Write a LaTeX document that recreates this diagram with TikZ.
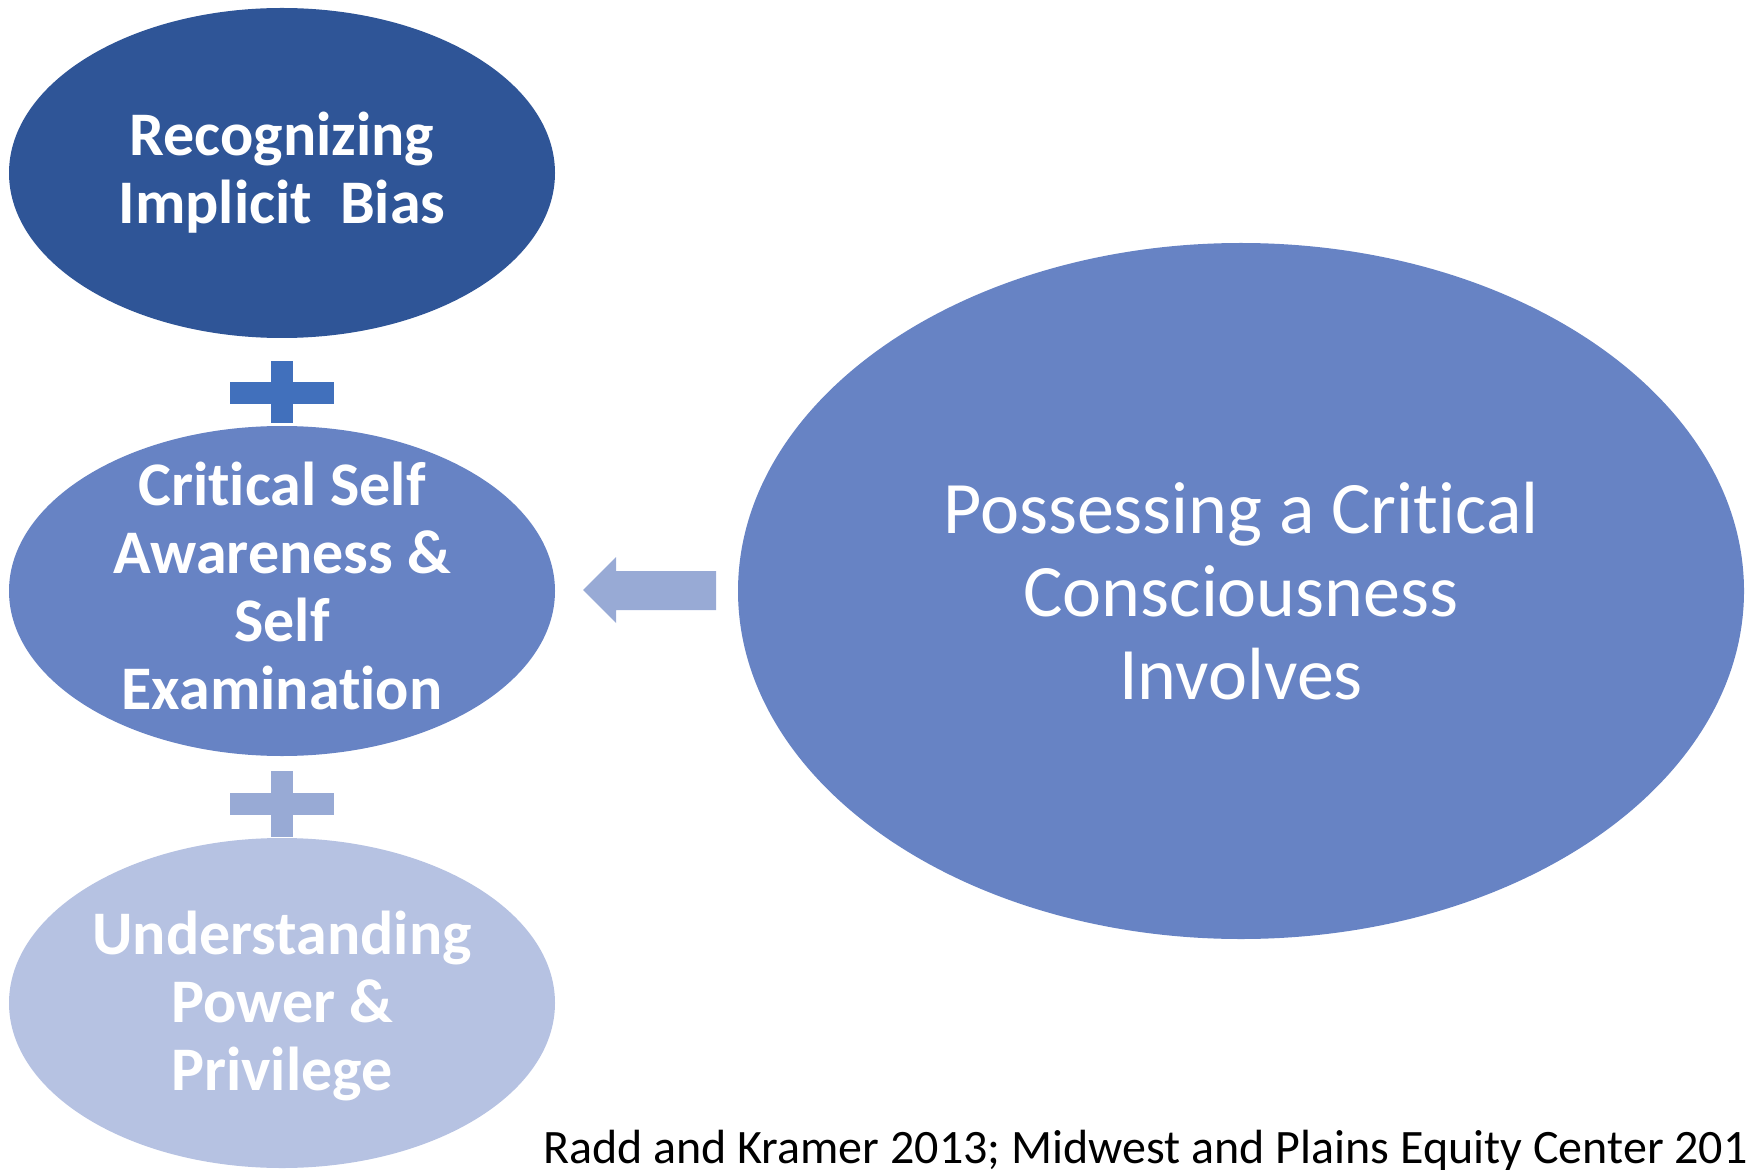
\documentclass[tikz,border=0pt]{standalone}
\usepackage{fontspec}
\setmainfont{Carlito}[Ligatures=NoCommon]
\usetikzlibrary{shapes.geometric}

\definecolor{darkblue}{HTML}{2F5597}
\definecolor{midblue}{HTML}{6783C4}
\definecolor{lightblue}{HTML}{B6C2E2}
\definecolor{plusblue}{HTML}{4170BC}
\definecolor{paleblue}{HTML}{98AAD5}

\begin{document}
\begin{tikzpicture}[x=0.5pt, y=-0.5pt,
                    main/.style = {ellipse, minimum width=273pt, minimum height=165pt, inner sep=0pt},
                    words/.style = {text=white, align=center, font=\fontsize{31}{34}\selectfont\bfseries}]
                    \useasboundingbox (0,0) rectangle (1748,1170);
                    \clip (0,0) rectangle (1748,1170);

                    \node[main, fill=darkblue] (1) at (282,173) {};
                    \node[main, fill=midblue] (2) at (282,591) {};
                    \node[main, fill=lightblue] (3) at (282,1003) {};
                    \node[main, fill=midblue, minimum width=503pt, minimum height=348pt] (4) at (1241,591) {};

                    \node[words] (1t) at (1) {Recognizing\\Implicit~ Bias};
                    \node[words] (2t) at (282,586) {Critical Self\\Awareness \&\\Self\\Examination};
                    \node[words] (3t) at (282,1006) {Understanding\\Power \&\\Privilege};
                    \node[text=white, align=center, font=\fontsize{37}{41.5}\selectfont] (4t) at (4) {Possessing a Critical\\Consciousness\\Involves};

                    % plus signs between the ovals
                    \fill[plusblue] (230,382) rectangle (334,404);
                    \fill[plusblue] (271,361) rectangle (293,423);
                    \fill[paleblue] (230,793) rectangle (334,815);
                    \fill[paleblue] (271,771) rectangle (293,837);

                    % block arrow pointing left
                    \fill[paleblue] (716,571) -- (616,571) -- (616,557) -- (583,590)
                                    -- (616,623) -- (616,610) -- (716,610) -- cycle;

                    \node[anchor=base west, font=\fontsize{24}{28}\selectfont] (5) at (536,1163)
                         {Radd and Kramer 2013; Midwest and Plains Equity Center 201};
                \end{tikzpicture}
\end{document}
